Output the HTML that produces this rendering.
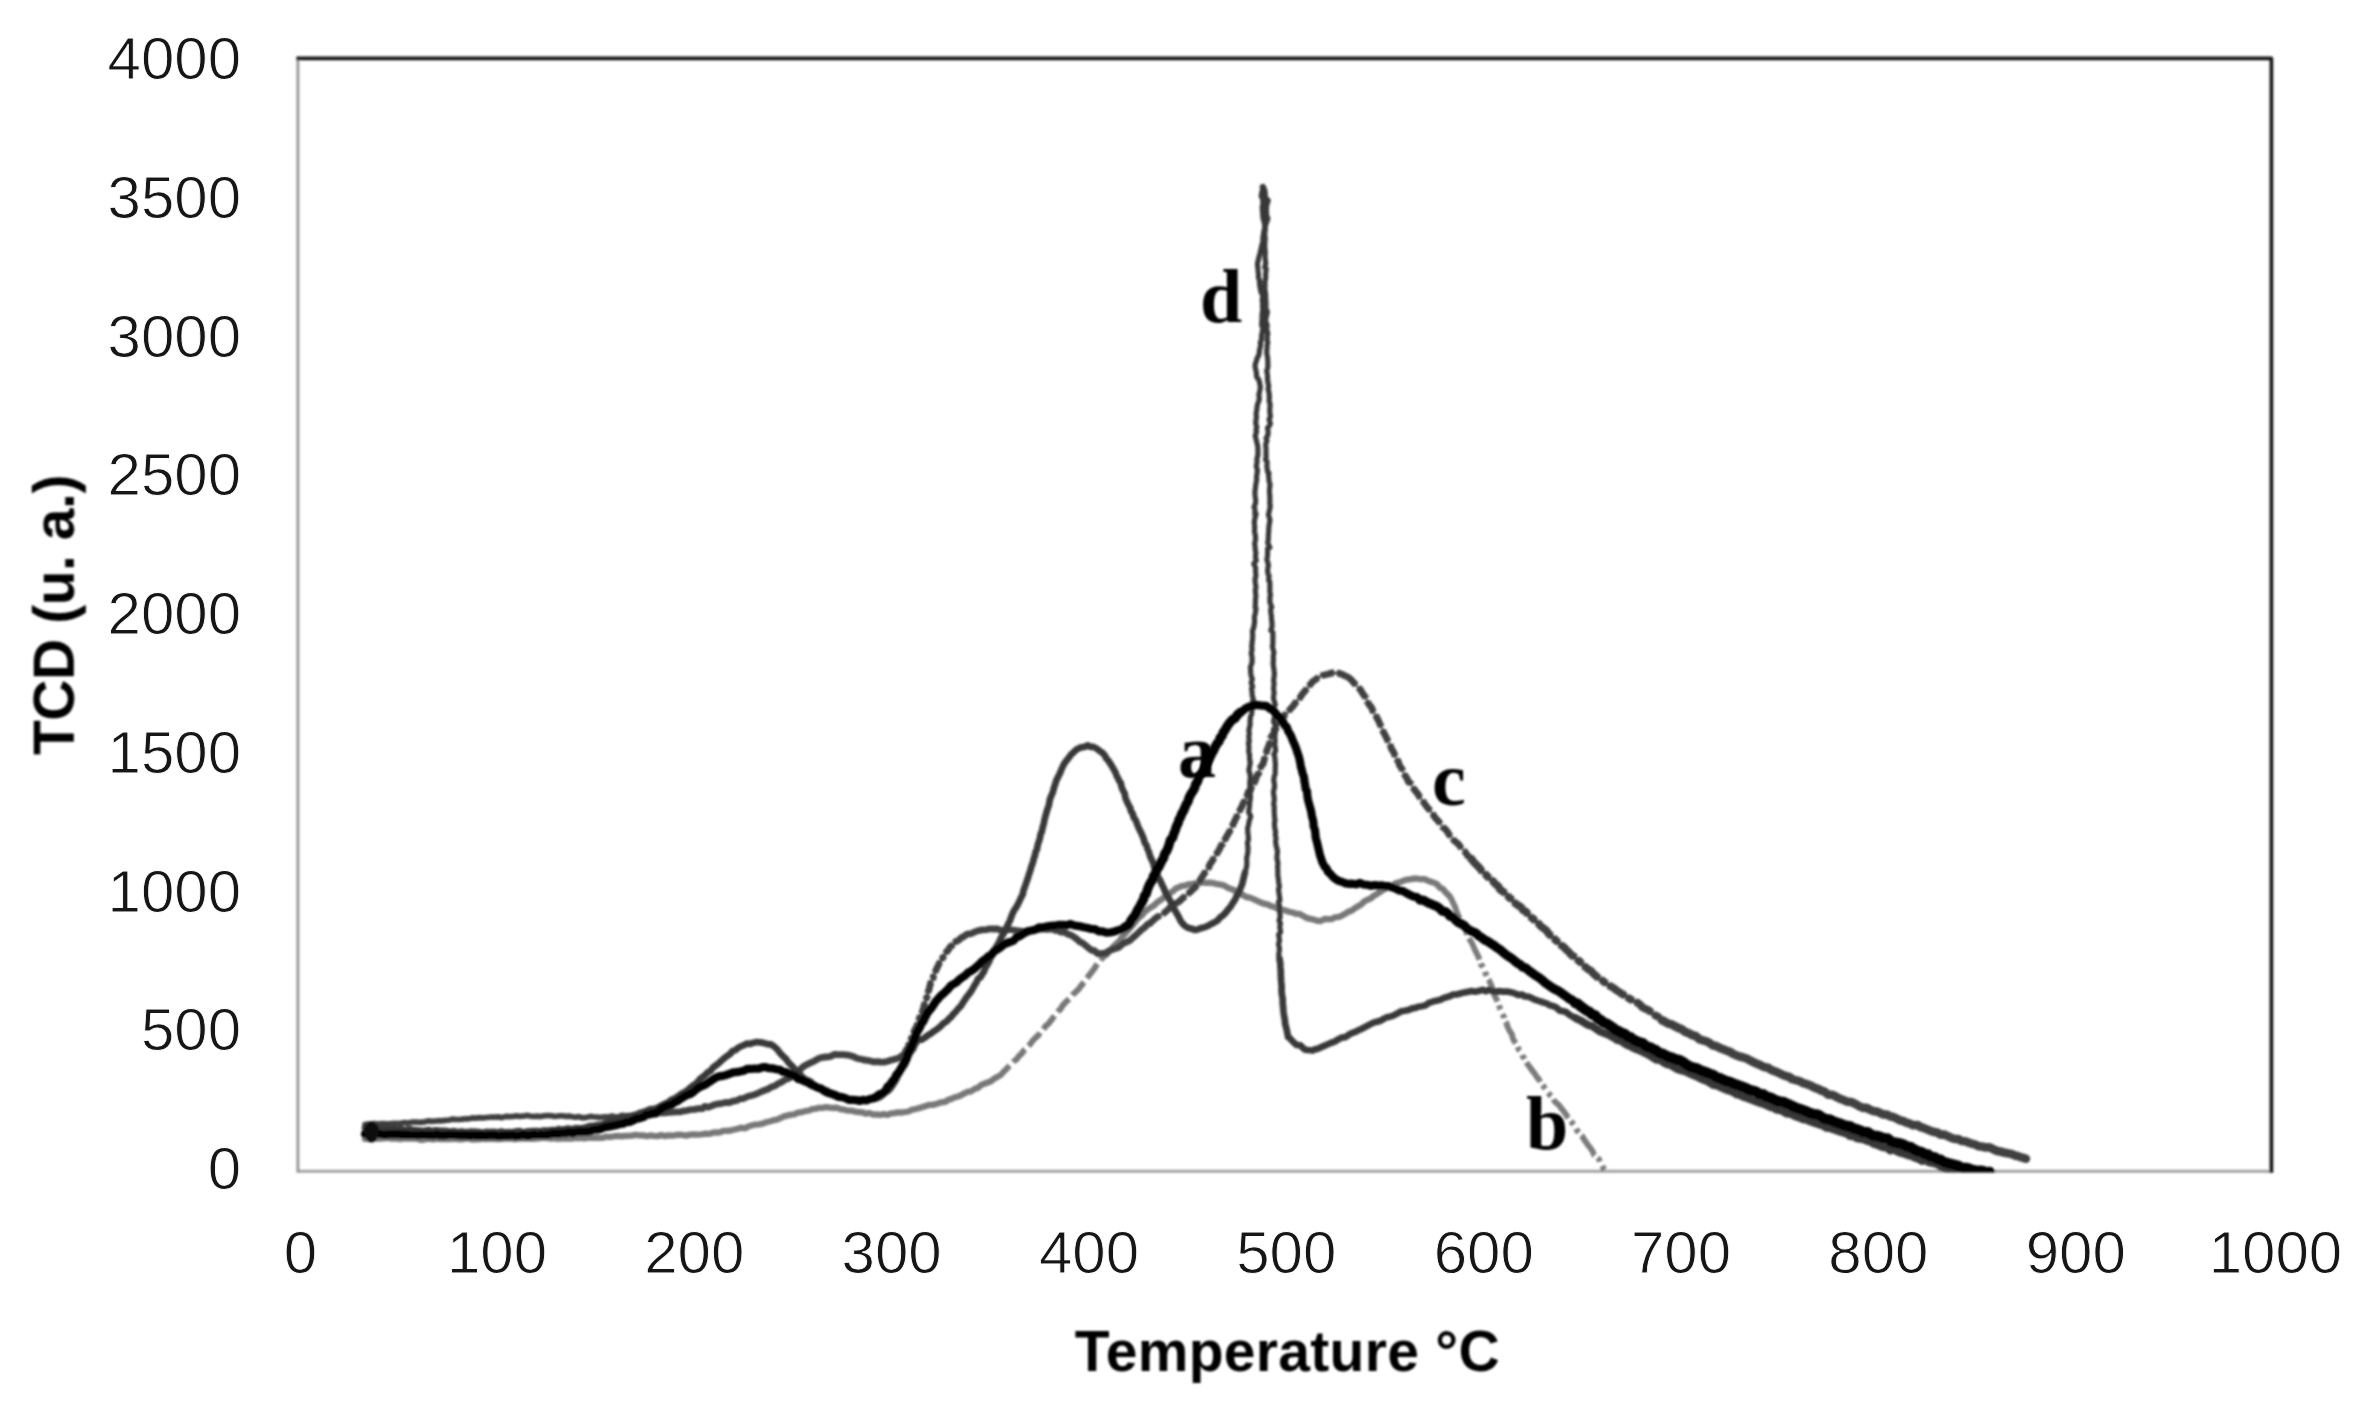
<!DOCTYPE html>
<html lang="en">
<head>
<meta charset="utf-8">
<title>TCD vs Temperature</title>
<style>
html,body{margin:0;padding:0;background:#fff;}
body{width:2357px;height:1402px;overflow:hidden;font-family:"Liberation Sans",sans-serif;}
svg{display:block;}
</style>
</head>
<body>
<svg width="2357" height="1402" viewBox="0 0 2357 1402">
<defs><clipPath id="plot"><rect x="290" y="50" width="1990" height="1122.6"/></clipPath><filter id="soft" x="0" y="0" width="2357" height="1402" filterUnits="userSpaceOnUse"><feGaussianBlur stdDeviation="1.0"/></filter><filter id="soft2" x="0" y="0" width="2357" height="1402" filterUnits="userSpaceOnUse"><feGaussianBlur stdDeviation="0.45"/></filter></defs>
<rect x="0" y="0" width="2357" height="1402" fill="#ffffff"/>
<g filter="url(#soft)">
<g fill="none" stroke-linecap="butt">
<path d="M297.8 1171.2 H2271.4" stroke="#a2a2a2" stroke-width="3"/>
<path d="M297.9 58.3 V1172.7" stroke="#9a9a9a" stroke-width="3"/>
<path d="M296.4 58.3 H2271.4 V1172.7" stroke="#161616" stroke-width="3.7" stroke-linejoin="round"/>
</g>
<g fill="none" stroke-linejoin="round" stroke-linecap="round" clip-path="url(#plot)">
<path d="M365.0 1138.8L367.1 1138.7L370.1 1139.0L371.8 1139.0L374.5 1138.5L377.8 1138.6L381.2 1138.7L384.0 1138.2L387.9 1137.9L391.9 1138.7L396.1 1138.4L399.8 1139.1L404.1 1138.4L408.5 1138.5L412.5 1138.7L416.3 1138.3L420.5 1139.9L424.4 1139.5L429.0 1138.6L432.8 1139.4L436.3 1138.6L440.3 1139.0L444.1 1139.0L446.8 1138.8L450.4 1139.1L454.5 1138.6L457.6 1139.2L461.3 1139.4L464.7 1138.7L468.4 1138.4L472.9 1139.6L475.5 1139.2L478.8 1139.4L483.1 1138.7L486.3 1139.0L490.1 1138.7L493.3 1138.8L497.0 1139.2L500.7 1139.0L503.8 1138.7L507.8 1138.6L511.4 1138.7L514.6 1139.2L518.9 1138.6L522.5 1138.3L525.8 1138.6L530.5 1138.6L533.6 1138.8L537.8 1138.3L542.1 1137.8L545.5 1137.9L550.2 1138.5L553.7 1138.1L557.9 1138.9L561.4 1138.4L565.9 1138.5L568.9 1138.4L572.5 1138.5L575.9 1137.9L579.0 1138.2L581.9 1138.0L584.7 1138.5L588.0 1137.5L590.2 1137.9L596.7 1137.5L601.0 1137.8L603.4 1137.6L605.8 1136.5L608.4 1137.0L612.0 1136.7L615.0 1136.2L618.4 1135.9L621.7 1136.3L624.7 1135.9L628.2 1135.9L631.9 1135.7L635.3 1134.8L639.9 1135.3L643.9 1135.5L646.8 1136.2L650.4 1135.4L653.6 1135.8L657.6 1136.1L661.3 1135.1L664.5 1136.1L668.4 1135.4L672.3 1135.7L676.2 1135.0L679.6 1134.6L683.4 1135.2L686.3 1135.6L690.0 1134.6L694.0 1134.5L698.0 1134.6L701.6 1134.4L704.7 1133.7L709.2 1133.9L712.8 1132.7L715.7 1132.5L720.3 1132.3L723.1 1130.9L727.1 1130.8L730.6 1130.5L733.4 1129.7L737.9 1128.7L741.0 1127.7L744.6 1128.4L748.9 1126.3L752.5 1125.3L755.4 1124.6L758.8 1124.3L762.6 1123.6L765.0 1122.6L769.2 1121.5L772.9 1120.4L776.8 1119.6L779.8 1118.3L783.3 1116.7L786.0 1115.8L790.2 1114.9L794.3 1114.3L797.3 1112.9L801.4 1112.2L804.9 1111.2L809.4 1110.5L812.0 1109.1L814.6 1108.8L819.2 1107.9L822.6 1107.8L826.3 1107.1L829.7 1107.7L833.6 1108.0L836.8 1107.7L840.2 1109.2L844.3 1109.7L848.2 1110.7L852.0 1110.7L855.1 1111.7L858.9 1112.1L862.8 1112.5L866.1 1113.7L869.6 1113.0L873.3 1114.7L876.9 1114.4L880.1 1115.0L883.6 1114.1L887.6 1114.9L891.2 1113.4L894.3 1113.1L898.0 1112.4L902.0 1112.5L905.1 1112.0L908.4 1111.5L912.3 1109.6L915.9 1109.0L919.5 1107.9L922.8 1106.9L926.1 1106.0L928.8 1104.9L932.9 1104.8L935.7 1104.2L938.8 1103.1L941.5 1102.3L945.9 1101.6L948.2 1099.8L951.5 1098.9L954.3 1097.5L958.0 1096.5L961.0 1095.3L964.0 1093.6L967.6 1091.8L971.2 1091.3L974.4 1089.0L978.1 1087.7L980.5 1085.4L984.4 1083.7L987.5 1082.5L991.2 1081.2L994.1 1078.7L996.8 1077.2" stroke="#787878" stroke-width="6.3"/>
<path d="M996.8 1077.2L1000.7 1075.1L1003.6 1071.7L1006.4 1069.1L1008.5 1066.8L1011.8 1063.9L1013.8 1061.5L1016.7 1059.2L1019.0 1055.9L1021.2 1054.1L1023.8 1050.6L1026.1 1048.7L1029.0 1045.5L1030.8 1043.3L1033.3 1040.0L1036.0 1037.3L1038.3 1035.4L1040.8 1031.4L1043.0 1029.9L1045.5 1026.2L1048.2 1024.0L1050.5 1021.2L1052.8 1018.0L1055.4 1014.7L1058.0 1011.5L1060.6 1008.9L1062.7 1005.4L1065.2 1002.7L1067.7 1000.3L1069.9 998.3L1072.7 994.7L1075.2 992.4L1077.8 990.1L1080.1 987.2L1082.4 984.1L1085.2 980.9L1087.0 978.2L1089.5 974.9L1092.0 971.7L1094.0 969.1L1095.8 966.1L1098.3 962.8L1100.4 960.5L1102.7 957.6L1104.7 955.7L1107.0 954.1" stroke="#787878" stroke-width="6.0" stroke-dasharray="17.5 5" stroke-linecap="butt"/>
<path d="M1107.0 954.1L1109.5 950.5L1111.9 948.6L1114.0 946.0L1116.4 943.7L1120.4 940.0L1121.9 937.0L1123.9 935.2L1126.4 932.3L1128.8 929.4L1131.5 926.5L1134.1 923.5L1136.5 920.4L1139.1 917.5L1142.0 915.2L1144.4 912.1L1147.5 909.6L1150.5 907.5L1153.4 905.9L1156.4 903.1L1159.0 901.1L1162.4 898.8L1164.5 896.8L1167.4 895.2L1170.7 892.5L1173.3 891.1L1176.1 888.2L1178.3 887.6L1181.2 886.2L1184.9 885.7L1188.2 884.4L1191.7 884.2L1195.4 883.3L1198.5 883.5L1202.8 882.2L1205.7 882.9L1210.5 882.7L1214.0 883.3L1217.2 884.2L1220.7 884.6L1224.3 885.5L1227.2 887.5L1230.1 888.7L1233.9 890.0L1236.1 891.8L1238.7 893.3L1242.2 894.7L1245.9 896.8L1249.7 897.6L1253.5 899.1L1257.2 900.8L1260.1 902.2L1264.3 903.8L1267.5 904.3L1271.1 906.1L1274.6 907.0L1277.8 908.9L1281.6 909.7L1285.5 910.5L1289.0 911.7L1292.4 912.5L1296.2 913.8L1299.6 913.9L1303.2 915.9L1307.1 918.2L1310.4 918.9L1313.4 919.5L1317.3 920.8L1320.7 921.0L1324.6 918.9L1328.7 919.2L1331.9 919.0L1335.0 917.3L1339.0 916.9L1342.5 915.3L1345.2 913.8L1348.5 911.8L1351.9 910.5L1354.8 908.3L1358.1 906.3L1361.1 904.6L1364.1 901.5L1367.8 899.7L1370.8 898.4L1373.5 895.9L1377.0 893.9L1379.9 892.0L1383.6 889.5L1386.6 888.2L1389.2 886.4L1392.7 885.3L1395.9 883.1L1399.6 882.2L1403.1 880.9L1406.3 879.7L1409.7 879.3L1412.3 878.8L1416.0 878.5L1420.3 879.2L1424.6 879.1L1428.0 880.8L1432.3 882.3L1434.8 883.0L1437.3 884.5L1439.9 887.7L1443.1 889.2L1445.5 892.4L1447.5 894.0L1449.8 896.6" stroke="#787878" stroke-width="6.3"/>
<path d="M1449.8 896.6L1452.0 900.3L1453.4 903.6L1455.2 907.0L1456.3 910.9L1457.9 914.5L1459.3 918.0L1460.6 921.6L1462.4 925.4L1463.9 927.8L1465.8 930.5L1467.3 934.4L1468.6 937.5L1470.2 940.2L1472.0 943.2L1473.5 946.7L1474.8 949.7L1476.6 953.1L1478.5 957.0L1479.6 960.4L1480.6 964.1L1482.5 966.3L1484.6 969.7L1485.7 974.0L1487.0 977.4L1489.1 980.4L1490.6 983.6L1492.0 987.5L1493.1 990.5L1494.2 994.5L1495.5 997.4L1497.4 1001.0L1498.8 1003.9L1499.7 1007.6L1501.3 1011.3L1502.2 1014.1L1504.1 1017.3L1504.9 1020.8L1506.8 1023.9L1507.7 1027.1L1509.1 1030.1L1511.7 1034.0L1512.8 1038.0L1513.9 1040.7L1516.1 1044.1L1517.5 1046.3L1518.8 1049.6L1521.2 1052.3L1522.7 1056.2L1524.6 1058.7L1526.1 1061.9L1528.0 1064.8L1529.9 1067.3L1532.0 1070.3L1534.5 1073.2L1536.6 1076.8L1538.8 1079.3L1541.0 1083.1L1543.6 1086.5L1545.6 1089.1L1547.8 1092.5L1550.3 1095.3L1552.5 1097.2L1554.7 1101.5L1556.7 1103.2L1559.2 1105.4L1561.4 1108.4L1563.5 1111.1L1565.9 1114.4L1567.6 1117.1L1570.4 1120.6L1572.3 1122.9L1574.9 1126.1L1576.7 1130.0L1578.8 1132.5L1581.9 1135.7L1583.8 1139.0L1585.7 1141.7L1588.0 1145.1L1590.1 1147.6L1592.6 1151.3L1594.2 1155.1L1596.8 1157.1L1599.2 1159.5L1600.4 1163.6L1602.3 1165.6L1603.8 1169.0L1605.0 1170.4" stroke="#7c7c7c" stroke-width="5.9" stroke-dasharray="24 4 4.5 5 4.5 4" stroke-linecap="butt"/>
<path d="M365.0 1124.5L367.0 1124.2L370.5 1124.0L373.7 1123.5L378.3 1124.0L382.2 1123.5L386.1 1123.8L390.8 1123.6L395.3 1123.3L398.5 1123.7L401.7 1123.1L404.5 1122.5L407.6 1123.1L411.7 1122.2L415.2 1122.0L420.4 1122.3L425.0 1121.8L428.2 1120.9L431.1 1121.4L434.2 1121.2L437.9 1120.7L441.2 1120.8L445.0 1120.3L449.3 1120.0L452.8 1119.1L456.8 1119.5L460.9 1119.3L464.9 1118.9L468.7 1118.8L472.4 1117.9L476.1 1118.1L479.6 1117.7L483.6 1117.8L486.8 1117.5L491.0 1117.1L494.8 1117.1L498.3 1116.9L502.1 1117.6L505.9 1116.4L509.2 1116.6L513.2 1116.5L516.2 1115.9L519.7 1116.4L523.2 1116.2L527.3 1115.4L530.2 1116.1L533.2 1116.5L536.9 1116.2L540.8 1116.6L544.2 1115.8L547.7 1115.5L552.2 1115.9L554.9 1116.5L559.4 1115.9L562.5 1115.8L565.5 1116.4L569.1 1116.1L572.8 1116.8L575.9 1117.2L578.9 1116.6L582.2 1117.8L586.9 1117.3L590.4 1116.4L594.4 1117.0L598.0 1117.1L600.3 1117.5L604.3 1116.8L608.0 1117.0L612.1 1116.1L615.2 1116.9L618.1 1117.0L621.7 1115.4L625.6 1115.9L628.6 1115.7L632.6 1115.5L635.5 1115.0L639.4 1115.2L642.7 1115.0L646.3 1114.4L650.1 1114.1" stroke="#414141" stroke-width="5.7"/>
<path d="M650.1 1114.1L653.7 1113.8L657.2 1113.5L661.3 1112.5L664.7 1112.8L668.9 1112.4L672.9 1112.1L676.4 1111.8L680.0 1111.9L683.9 1110.8L686.8 1110.6L690.0 1109.7L694.5 1109.4L698.5 1108.6L702.3 1108.7L704.7 1106.4L708.1 1107.2L711.7 1105.9L715.1 1104.5L718.6 1103.8L722.2 1103.3L725.6 1102.5L729.4 1102.7L732.4 1101.3L736.3 1100.7L740.3 1098.7L743.6 1098.5L747.6 1096.5L750.5 1095.7L754.6 1094.7L758.0 1093.2L761.6 1091.5L764.8 1090.3L768.3 1089.0L771.5 1086.9L775.1 1085.8L778.7 1083.3L781.4 1082.1L785.2 1079.6L787.7 1078.7L789.8 1077.9L794.2 1073.5L796.7 1072.2L799.6 1070.3L802.3 1067.4L805.0 1065.6L808.6 1063.7L811.5 1062.4L814.8 1060.7L819.1 1058.3L822.6 1057.4L825.9 1057.0L830.0 1056.6L834.7 1054.4L838.2 1054.7L842.7 1054.6L845.8 1054.9L849.7 1055.4L853.0 1056.4L857.3 1058.5L860.4 1059.0L864.1 1060.0L867.2 1060.3L870.5 1061.0L873.7 1061.9L877.2 1061.7L880.4 1062.0L884.3 1062.1L887.8 1061.3L890.7 1060.3L893.9 1059.4L898.1 1058.3L901.0 1056.6L904.8 1053.8" stroke="#414141" stroke-width="6.8"/>
<path d="M904.8 1053.8L906.0 1050.2L907.7 1048.3L908.9 1044.6L910.5 1041.3L911.9 1037.1L913.4 1033.5L914.7 1029.9L916.1 1027.5L918.0 1023.0L918.9 1019.9L920.2 1015.9L921.8 1013.0L923.0 1009.7L924.0 1005.9L924.9 1002.8L926.1 999.5L927.5 995.4L928.1 991.9L929.1 989.1L929.9 985.8L930.9 982.3L932.9 978.8L933.7 975.6L935.2 971.9L936.7 968.6L938.6 964.8L939.9 962.0L942.0 959.0L943.8 956.1L945.8 952.8L948.4 949.7L950.2 946.7L952.8 944.9L956.0 941.4" stroke="#414141" stroke-width="3.2"/>
<path d="M904.8 1053.8L906.0 1050.2L907.7 1048.3L908.9 1044.6L910.5 1041.3L911.9 1037.1L913.4 1033.5L914.7 1029.9L916.1 1027.5L918.0 1023.0L918.9 1019.9L920.2 1015.9L921.8 1013.0L923.0 1009.7L924.0 1005.9L924.9 1002.8L926.1 999.5L927.5 995.4L928.1 991.9L929.1 989.1L929.9 985.8L930.9 982.3L932.9 978.8L933.7 975.6L935.2 971.9L936.7 968.6L938.6 964.8L939.9 962.0L942.0 959.0L943.8 956.1L945.8 952.8L948.4 949.7L950.2 946.7L952.8 944.9L956.0 941.4" stroke="#414141" stroke-width="6.8" stroke-dasharray="12 2.4 5 2.4" stroke-linecap="butt"/>
<path d="M956.0 941.4L958.6 940.3L961.5 937.6L964.5 936.1L967.2 934.1L971.0 933.7L974.8 931.9L978.3 930.6L982.3 929.9L986.4 929.6L990.0 928.8L994.2 929.0L997.4 928.9L1002.0 930.9L1005.0 929.5L1008.9 929.5L1012.9 930.0L1016.8 930.6L1020.8 931.1L1025.0 931.4L1029.0 930.6L1033.1 930.6L1036.9 929.9L1041.0 929.1L1044.8 929.1L1048.1 929.4L1052.4 928.9L1054.9 930.3L1058.3 930.7L1061.3 932.2L1065.1 932.3L1068.2 934.3L1070.8 935.1L1074.3 937.2L1077.0 939.2L1079.5 941.7L1082.7 943.2L1085.5 945.4L1088.8 948.2L1091.6 950.1L1094.7 950.9L1097.6 953.6L1101.3 953.5L1105.0 953.3L1108.1 951.3L1112.3 949.4L1115.5 948.4L1118.1 947.7L1121.2 945.3L1123.5 943.3L1127.0 941.8L1130.1 940.4L1133.2 937.4L1135.6 935.4L1138.0 933.1L1141.8 929.5L1144.6 927.5L1147.3 924.4L1149.7 923.5" stroke="#414141" stroke-width="6.8"/>
<path d="M1149.7 923.5L1153.3 920.3L1156.0 917.8L1158.6 916.2L1160.6 914.1L1164.4 912.8L1167.6 910.0L1170.1 907.4L1172.8 907.3L1175.8 903.6L1179.3 901.4L1181.8 899.1L1184.9 896.2L1187.6 894.2L1189.8 892.3L1192.5 889.7L1195.1 887.5L1196.6 884.9L1199.1 882.0L1200.6 879.2L1202.8 875.9L1205.4 871.9L1206.7 870.0L1208.6 867.8L1209.6 864.8L1211.7 861.8L1213.8 858.2L1215.6 855.5L1217.7 852.1L1219.4 849.2L1221.4 845.1L1222.9 843.7L1224.9 839.6L1226.7 836.4L1228.6 833.1L1230.6 829.6L1232.1 826.5L1233.5 823.5L1235.3 819.6L1236.9 816.4L1238.0 814.2L1240.4 809.2L1241.8 806.7L1243.4 802.8L1245.3 799.8L1246.8 796.6L1248.3 791.7L1250.6 790.1L1251.6 785.7L1254.1 783.0L1255.3 780.5L1256.7 776.0L1258.7 773.2L1259.5 769.3L1261.2 766.1L1263.0 764.0L1264.0 760.5L1265.1 756.5L1266.0 754.4L1266.8 750.6L1267.8 748.1L1269.3 744.4L1270.2 741.1L1270.8 737.6L1272.3 735.2L1274.0 732.4L1275.4 729.3L1277.4 726.7L1279.2 723.6L1280.6 720.7L1283.0 718.0L1285.1 714.5L1287.8 712.7L1289.9 709.5L1292.4 706.9L1294.7 703.7L1297.6 699.8L1299.9 697.8L1302.2 694.2L1304.9 691.1L1307.5 688.1L1310.0 684.8L1312.4 681.8L1315.3 679.8L1318.2 677.6L1321.6 675.7L1325.1 674.8L1327.9 674.2L1331.3 673.0L1334.6 673.0L1338.7 673.2L1342.5 674.5L1346.2 676.4" stroke="#414141" stroke-width="2.4"/>
<path d="M1149.7 923.5L1153.3 920.3L1156.0 917.8L1158.6 916.2L1160.6 914.1L1164.4 912.8L1167.6 910.0L1170.1 907.4L1172.8 907.3L1175.8 903.6L1179.3 901.4L1181.8 899.1L1184.9 896.2L1187.6 894.2L1189.8 892.3L1192.5 889.7L1195.1 887.5L1196.6 884.9L1199.1 882.0L1200.6 879.2L1202.8 875.9L1205.4 871.9L1206.7 870.0L1208.6 867.8L1209.6 864.8L1211.7 861.8L1213.8 858.2L1215.6 855.5L1217.7 852.1L1219.4 849.2L1221.4 845.1L1222.9 843.7L1224.9 839.6L1226.7 836.4L1228.6 833.1L1230.6 829.6L1232.1 826.5L1233.5 823.5L1235.3 819.6L1236.9 816.4L1238.0 814.2L1240.4 809.2L1241.8 806.7L1243.4 802.8L1245.3 799.8L1246.8 796.6L1248.3 791.7L1250.6 790.1L1251.6 785.7L1254.1 783.0L1255.3 780.5L1256.7 776.0L1258.7 773.2L1259.5 769.3L1261.2 766.1L1263.0 764.0L1264.0 760.5L1265.1 756.5L1266.0 754.4L1266.8 750.6L1267.8 748.1L1269.3 744.4L1270.2 741.1L1270.8 737.6L1272.3 735.2L1274.0 732.4L1275.4 729.3L1277.4 726.7L1279.2 723.6L1280.6 720.7L1283.0 718.0L1285.1 714.5L1287.8 712.7L1289.9 709.5L1292.4 706.9L1294.7 703.7L1297.6 699.8L1299.9 697.8L1302.2 694.2L1304.9 691.1L1307.5 688.1L1310.0 684.8L1312.4 681.8L1315.3 679.8L1318.2 677.6L1321.6 675.7L1325.1 674.8L1327.9 674.2L1331.3 673.0L1334.6 673.0L1338.7 673.2L1342.5 674.5L1346.2 676.4" stroke="#414141" stroke-width="6.8" stroke-dasharray="13.5 2.8" stroke-linecap="butt"/>
<path d="M1346.2 676.4L1348.6 677.5L1351.4 679.9L1354.9 683.9L1357.5 686.6L1360.2 689.4L1361.8 692.0L1363.9 695.3L1365.9 697.9L1367.5 701.9L1369.2 704.8L1371.5 707.5L1373.1 711.4L1374.9 714.0L1376.6 717.2L1378.7 721.2L1380.0 724.3L1381.7 727.6L1383.3 731.8L1385.0 734.9L1386.8 738.5L1388.3 741.7L1390.0 744.2L1391.5 749.0L1393.4 751.7L1394.7 755.0L1396.9 759.5L1398.4 761.7L1399.5 765.4L1402.1 769.1L1403.1 771.9L1405.0 775.5L1407.2 778.6L1408.1 781.5L1410.7 783.5L1412.2 786.5L1413.4 788.2L1415.6 791.3L1417.9 794.0L1419.8 797.3L1422.3 799.9L1424.2 803.2L1425.9 805.7L1428.1 808.4L1430.7 811.1L1432.8 814.1L1435.1 817.7L1437.3 820.0L1439.7 822.8L1442.5 827.0L1444.7 828.6L1447.1 831.3L1449.0 834.6L1451.8 836.9L1453.9 840.4L1456.3 842.3L1458.7 844.3L1461.6 848.6L1464.0 850.6L1466.6 854.0L1469.0 857.6" stroke="#414141" stroke-width="2.0"/>
<path d="M1346.2 676.4L1348.6 677.5L1351.4 679.9L1354.9 683.9L1357.5 686.6L1360.2 689.4L1361.8 692.0L1363.9 695.3L1365.9 697.9L1367.5 701.9L1369.2 704.8L1371.5 707.5L1373.1 711.4L1374.9 714.0L1376.6 717.2L1378.7 721.2L1380.0 724.3L1381.7 727.6L1383.3 731.8L1385.0 734.9L1386.8 738.5L1388.3 741.7L1390.0 744.2L1391.5 749.0L1393.4 751.7L1394.7 755.0L1396.9 759.5L1398.4 761.7L1399.5 765.4L1402.1 769.1L1403.1 771.9L1405.0 775.5L1407.2 778.6L1408.1 781.5L1410.7 783.5L1412.2 786.5L1413.4 788.2L1415.6 791.3L1417.9 794.0L1419.8 797.3L1422.3 799.9L1424.2 803.2L1425.9 805.7L1428.1 808.4L1430.7 811.1L1432.8 814.1L1435.1 817.7L1437.3 820.0L1439.7 822.8L1442.5 827.0L1444.7 828.6L1447.1 831.3L1449.0 834.6L1451.8 836.9L1453.9 840.4L1456.3 842.3L1458.7 844.3L1461.6 848.6L1464.0 850.6L1466.6 854.0L1469.0 857.6" stroke="#414141" stroke-width="6.8" stroke-dasharray="13.5 2.9" stroke-linecap="butt"/>
<path d="M1469.0 857.6L1471.7 859.0L1473.9 862.3L1476.6 864.8L1479.4 867.9L1482.0 871.1L1484.6 873.4L1487.2 876.2L1490.4 879.6L1492.6 880.8L1495.1 883.8L1497.9 885.8L1499.9 889.3L1503.2 891.8L1506.1 893.8L1509.0 897.4L1511.1 898.9L1513.5 901.4L1516.0 903.9L1518.5 905.6L1521.2 907.3L1523.0 910.2L1525.9 911.6L1528.4 914.9L1530.9 917.2L1533.4 919.0L1535.4 921.0L1538.5 923.6L1540.6 926.1L1544.3 928.8L1546.2 930.3L1548.3 933.2L1551.0 936.0L1553.6 938.1L1556.3 940.6L1558.8 942.8L1561.5 945.6L1564.1 947.3L1566.4 949.9L1569.0 952.2L1571.8 955.5L1574.3 956.8L1577.1 959.6L1579.5 961.2L1582.0 964.1L1584.5 966.2L1587.6 968.9L1591.0 970.9L1593.5 973.8L1596.7 976.5L1599.1 978.8L1602.0 980.3L1604.8 982.5L1607.7 984.6L1610.7 986.4L1613.5 987.9L1616.7 990.5L1619.8 992.3L1622.2 994.1L1626.0 995.8L1628.6 998.2L1631.5 999.8L1634.7 1001.5L1637.9 1002.9L1640.3 1005.0L1642.7 1007.5L1646.3 1009.2L1649.3 1010.5L1652.0 1013.6L1654.8 1015.1L1658.4 1017.0L1661.8 1020.1" stroke="#414141" stroke-width="4.6"/>
<path d="M1469.0 857.6L1471.7 859.0L1473.9 862.3L1476.6 864.8L1479.4 867.9L1482.0 871.1L1484.6 873.4L1487.2 876.2L1490.4 879.6L1492.6 880.8L1495.1 883.8L1497.9 885.8L1499.9 889.3L1503.2 891.8L1506.1 893.8L1509.0 897.4L1511.1 898.9L1513.5 901.4L1516.0 903.9L1518.5 905.6L1521.2 907.3L1523.0 910.2L1525.9 911.6L1528.4 914.9L1530.9 917.2L1533.4 919.0L1535.4 921.0L1538.5 923.6L1540.6 926.1L1544.3 928.8L1546.2 930.3L1548.3 933.2L1551.0 936.0L1553.6 938.1L1556.3 940.6L1558.8 942.8L1561.5 945.6L1564.1 947.3L1566.4 949.9L1569.0 952.2L1571.8 955.5L1574.3 956.8L1577.1 959.6L1579.5 961.2L1582.0 964.1L1584.5 966.2L1587.6 968.9L1591.0 970.9L1593.5 973.8L1596.7 976.5L1599.1 978.8L1602.0 980.3L1604.8 982.5L1607.7 984.6L1610.7 986.4L1613.5 987.9L1616.7 990.5L1619.8 992.3L1622.2 994.1L1626.0 995.8L1628.6 998.2L1631.5 999.8L1634.7 1001.5L1637.9 1002.9L1640.3 1005.0L1642.7 1007.5L1646.3 1009.2L1649.3 1010.5L1652.0 1013.6L1654.8 1015.1L1658.4 1017.0L1661.8 1020.1" stroke="#414141" stroke-width="7.8" stroke-dasharray="20 2.4 7 2.4" stroke-linecap="butt"/>
<path d="M1661.8 1020.1L1665.3 1021.9L1668.1 1023.6L1671.2 1024.2L1674.8 1026.1L1678.2 1027.9L1681.7 1029.2L1685.0 1031.8L1688.9 1033.3L1692.4 1035.3L1695.6 1035.9L1699.3 1039.2L1702.7 1040.3L1706.1 1041.2L1709.4 1042.9L1712.7 1045.4L1716.1 1046.0L1719.3 1047.7L1723.6 1049.4L1727.0 1050.9L1729.7 1051.6L1733.0 1053.9L1735.9 1055.2L1740.2 1056.8L1742.8 1057.3L1746.6 1058.5L1750.0 1060.4L1753.6 1062.3L1757.0 1063.7L1760.6 1065.3L1763.8 1067.0L1768.0 1067.7L1771.3 1070.0L1774.7 1071.3L1777.8 1072.5L1781.7 1074.4L1784.4 1075.6L1787.6 1076.5L1790.0 1077.4L1791.5 1078.9L1795.2 1080.0L1800.2 1081.4L1802.5 1082.8L1805.1 1083.6L1807.7 1084.4L1811.0 1085.7L1813.7 1087.4L1817.5 1088.7L1821.4 1090.7L1824.4 1091.7L1828.2 1094.6L1831.9 1094.7L1835.9 1096.7L1839.4 1098.5L1842.7 1099.7L1846.4 1101.4L1850.4 1101.9L1853.4 1102.9L1856.4 1104.6L1859.5 1106.4L1863.0 1107.9L1866.6 1107.9L1869.8 1109.6L1872.7 1110.9L1876.5 1111.4L1879.8 1112.8L1883.5 1114.5L1886.8 1114.6L1890.4 1116.6L1893.4 1117.1L1896.9 1118.7L1900.1 1120.4L1903.8 1121.3L1906.4 1122.6L1909.9 1123.6L1913.3 1125.3L1917.6 1125.0L1920.3 1127.0L1923.4 1127.9L1927.4 1129.6L1930.3 1130.7L1934.3 1132.1L1937.2 1132.5L1940.5 1134.6L1944.1 1134.5L1947.1 1135.9L1949.8 1137.2L1953.9 1138.7L1958.2 1139.1L1961.6 1141.0L1965.0 1141.2L1968.5 1142.6L1971.7 1143.6L1975.3 1144.6L1978.9 1146.3L1982.2 1146.6L1985.6 1147.5L1989.1 1147.2L1992.0 1148.6L1996.2 1150.7L2000.0 1151.5L2003.9 1152.5L2007.7 1153.3L2011.4 1153.9L2015.3 1155.7L2018.0 1156.1L2021.1 1157.4L2023.6 1157.9L2025.9 1158.8" stroke="#414141" stroke-width="8.6"/>
<path d="M365.0 1128.0L366.8 1128.4L369.8 1128.0L372.8 1128.4L376.3 1128.5L380.2 1129.1L384.3 1128.8L387.8 1129.3L392.0 1128.8L396.6 1129.7L399.9 1129.4L403.5 1129.7L407.0 1129.8L409.9 1129.2L414.1 1130.2L416.9 1130.4L421.1 1130.8L424.7 1130.8L428.2 1130.1L432.2 1131.0L436.0 1130.4L439.9 1130.9L443.6 1130.8L446.5 1131.1L450.3 1131.9L454.0 1131.0L457.2 1132.3L461.1 1131.6L464.8 1132.0L468.8 1131.9L471.9 1131.5L476.0 1131.9L479.6 1132.2L483.0 1132.7L486.9 1131.9L490.4 1132.1L493.9 1131.8L497.8 1132.5L501.4 1131.5L504.7 1132.5L508.5 1132.0L512.1 1132.5L515.6 1131.6L519.6 1131.1L522.9 1132.7L526.6 1131.7L529.6 1131.4L533.3 1131.0L536.8 1131.2L540.6 1131.4L543.8 1130.5L548.2 1130.7L552.1 1130.1L555.6 1130.3L558.6 1129.1L563.0 1130.0L566.0 1128.9L569.0 1128.7L572.8 1129.2L575.9 1128.2L579.0 1128.3L582.4 1128.3L586.5 1127.2L590.3 1125.9L594.3 1125.9L597.5 1124.8L602.0 1124.5L605.3 1123.0L608.5 1122.0L612.4 1121.3L615.5 1120.1L619.3 1120.2L622.8 1118.5L626.2 1117.9L629.8 1116.5L633.3 1115.3L636.8 1114.4L639.6 1113.0L643.7 1112.0L647.7 1110.4L650.8 1109.0L654.3 1108.9L657.8 1107.7L661.5 1105.6L665.0 1103.8L668.3 1102.3L671.0 1100.1L674.9 1098.3L677.6 1096.7L681.7 1093.6L684.5 1092.3L687.5 1090.2L689.6 1088.4L693.0 1085.5L695.8 1083.9L698.2 1081.1L700.3 1078.7L702.7 1076.9L704.8 1075.3L707.8 1072.3L710.7 1070.8L713.1 1067.5L716.4 1065.0L719.2 1062.8L722.2 1060.1L725.0 1057.6L728.0 1055.5L730.3 1053.6L732.8 1050.9L735.4 1050.1L738.2 1047.7L741.3 1046.3L744.2 1044.9L747.0 1043.6L749.8 1044.0L753.6 1042.7L756.8 1042.0L760.1 1042.4L763.5 1042.9L767.3 1044.1L770.8 1044.4L773.7 1046.2L776.7 1048.7L778.3 1050.8L780.4 1053.5L783.5 1056.7L786.1 1059.0L788.0 1062.0L791.3 1065.3L793.9 1068.3L796.6 1070.4L799.1 1073.5L802.6 1077.3L804.8 1079.3L807.2 1080.1L810.7 1081.7L812.8 1084.1L815.6 1085.9L820.1 1088.3L822.9 1089.7L826.5 1090.4L830.3 1092.7L833.8 1093.9L837.8 1095.6L841.6 1096.5L845.6 1098.2L849.0 1099.7L851.8 1100.2L856.0 1100.8L859.5 1101.4L862.7 1100.6L866.1 1100.4L869.1 1099.1L871.6 1098.1L875.3 1098.7L878.7 1097.6L882.1 1095.4L884.4 1092.9L887.8 1091.0L890.3 1088.6L891.8 1086.4L893.9 1083.2L896.0 1079.9L897.6 1076.4L899.6 1072.8L901.4 1069.8L903.3 1066.7L905.1 1064.6L906.3 1061.5L908.0 1057.1L909.6 1053.8L911.6 1050.7L913.5 1048.2L914.5 1045.2L915.7 1043.3L918.8 1039.2L921.6 1039.7L925.1 1037.5L927.4 1035.7L930.4 1033.9L933.9 1031.3L936.7 1029.4L940.0 1026.9L942.7 1023.9L946.5 1021.5L949.0 1018.7L951.3 1016.8L953.2 1014.2L955.9 1011.6L957.7 1009.1L960.7 1006.3L962.4 1003.5L964.6 1000.1L966.6 997.1L968.8 994.4L970.7 991.9L972.7 988.8L974.5 985.3L976.5 982.4L978.1 978.7L980.5 977.3L982.0 974.4L983.9 971.8L984.9 968.9L986.7 965.6L988.7 962.5L990.1 958.9L991.6 955.5L993.2 952.2L995.3 948.3L997.1 945.6L998.5 943.2L1000.4 939.2L1001.7 936.5L1004.4 932.3L1005.6 930.0L1007.3 925.8L1008.6 923.2L1010.1 920.2L1011.4 916.4L1012.3 914.2L1013.6 911.1L1015.6 908.3L1017.4 905.3L1018.8 902.4L1020.6 898.6L1022.9 894.1L1023.4 890.5L1024.3 888.4L1025.8 884.0L1026.4 882.3L1028.0 877.7L1028.9 874.6L1030.3 870.7L1031.3 866.6L1032.6 863.5L1033.8 858.6L1035.1 855.0L1035.5 852.3L1037.0 849.2L1037.5 845.9L1038.6 842.2L1039.8 838.8L1040.5 834.5L1041.9 831.4L1042.5 828.1L1043.9 823.3L1044.5 819.8L1045.5 815.7L1046.5 812.6L1047.3 809.5L1048.6 806.1L1049.3 803.0L1049.9 799.3L1051.4 795.5L1052.8 792.3L1054.1 787.4L1055.2 784.2L1056.3 780.4L1057.5 778.1L1058.9 775.3L1060.3 772.6L1060.8 770.8L1062.5 767.1L1064.3 763.5L1066.9 760.0L1068.4 758.3L1070.9 754.7L1073.0 752.9L1075.2 750.7L1077.6 748.8L1081.0 747.4L1084.4 746.9L1087.4 745.4L1090.8 746.9L1093.5 746.9L1096.7 748.6L1100.2 751.4L1102.0 752.4L1104.8 755.3L1105.9 757.8L1108.7 761.2L1110.8 764.4L1112.9 767.8L1115.3 772.2L1116.4 775.2L1117.6 777.5L1119.2 780.9L1120.8 783.0L1121.7 787.5L1123.1 790.7L1124.7 793.5L1125.5 798.2L1126.9 801.5L1128.5 804.9L1130.2 807.7L1130.9 811.2L1132.8 813.7L1133.6 817.2L1135.7 820.1L1137.1 823.9L1138.3 827.0L1139.5 829.7L1141.2 832.8L1142.6 836.2L1143.6 838.5L1144.6 842.5L1146.5 845.6L1147.6 849.1L1148.7 851.4L1150.3 856.8L1152.4 861.2L1153.4 863.4L1154.2 867.2L1155.8 870.2L1157.2 873.5L1158.3 877.8L1160.0 880.0L1161.7 884.1L1163.7 888.1L1165.2 891.8L1166.6 894.5L1168.8 898.3L1170.3 901.1L1172.4 904.7L1174.1 908.6L1174.6 909.7L1177.2 914.2L1179.2 917.9L1180.7 921.1L1182.7 923.8L1185.4 926.2L1187.8 927.8L1191.6 928.8L1195.2 930.0L1197.6 929.5L1200.9 928.1L1203.9 927.5L1207.5 926.1L1210.8 924.3L1214.6 922.3L1217.4 920.7L1219.8 917.8L1223.0 915.4L1225.7 912.6L1228.0 909.6L1230.4 906.9L1232.7 903.1L1234.9 899.8L1236.5 896.6L1238.3 893.1L1239.5 890.7L1240.9 887.3L1242.2 884.0L1243.2 879.9L1244.1 876.0L1245.0 872.5" stroke="#383838" stroke-width="6.7"/>
<path d="M1245.0 872.5L1246.1 868.8L1246.7 866.4L1246.9 861.6L1246.6 858.5L1247.2 855.9L1247.9 851.7L1248.0 847.5L1247.4 843.0L1248.5 839.3L1248.0 833.6L1247.7 831.5L1247.7 827.6L1248.5 825.2L1249.1 821.3L1250.7 816.6L1250.2 815.1L1248.6 812.3L1249.5 806.4L1249.6 803.0L1250.3 799.0L1250.4 795.8L1249.8 791.5L1249.9 788.9L1249.8 782.7L1249.8 781.6L1250.3 778.0L1249.9 773.3L1248.8 770.7L1249.6 766.3L1250.3 762.2L1249.5 759.3L1249.6 754.9L1248.7 751.7L1249.0 747.2L1248.4 743.0L1249.3 741.9L1248.8 736.4L1249.3 734.3L1248.9 729.9L1249.7 726.7L1250.2 723.8L1250.0 721.5L1250.5 716.4L1251.8 713.9L1251.9 710.3L1252.5 706.6L1251.9 703.1L1253.4 699.5L1252.2 695.7L1252.1 692.8L1251.5 688.3L1252.6 686.7L1251.2 682.8L1252.3 679.1L1251.1 675.6L1250.8 673.5L1250.4 666.9L1252.0 663.1L1252.1 658.4L1251.9 656.1L1251.2 653.4L1252.1 649.6L1251.7 647.2L1252.2 641.3L1252.5 639.8L1252.7 635.9L1252.4 630.9L1253.4 628.6L1254.3 624.4L1254.6 621.9L1254.4 616.5L1255.2 614.1L1256.0 608.3L1255.2 607.8L1255.5 601.3L1255.4 599.5L1255.9 596.6L1255.7 594.5L1255.3 590.1L1256.0 587.1L1255.3 582.8L1255.0 579.2L1256.0 575.8L1255.5 571.8L1255.7 567.8L1253.8 563.8L1256.3 560.4L1255.4 557.3L1255.9 552.5L1255.2 549.6L1255.2 547.0L1254.6 543.8L1255.6 539.5L1255.4 535.5L1254.5 531.6L1254.7 526.7L1254.4 523.8L1254.3 521.4L1256.1 513.7L1255.0 515.4L1254.9 509.0L1254.0 507.2L1255.6 503.1L1255.7 500.2L1255.2 496.5L1254.9 491.8L1255.5 487.4L1255.8 484.2L1256.7 480.2L1256.5 477.0L1257.2 472.4L1257.5 470.1L1256.3 466.4L1257.1 462.0L1256.9 458.7L1258.1 454.4L1257.8 452.7L1258.0 450.4L1257.7 445.8L1256.4 440.7L1255.2 435.9L1256.6 431.5L1256.0 430.0L1256.8 426.9L1255.7 423.4L1256.0 420.0L1256.5 417.0L1256.1 413.8L1256.9 409.4L1257.2 405.5L1259.4 399.1L1259.2 398.4L1258.9 394.5L1259.7 391.0L1260.4 387.1L1259.5 382.2L1259.0 380.2L1256.5 376.5L1256.5 373.8L1256.2 371.5L1255.2 367.3L1255.1 364.5L1256.2 361.8L1257.1 358.3L1258.9 355.0L1259.6 349.6L1260.7 345.0L1260.3 342.5L1261.6 339.7L1261.5 336.1L1262.1 333.1L1263.0 328.3L1261.7 325.5L1261.8 321.6L1262.3 316.8L1261.9 316.3L1262.8 308.9L1262.4 305.8L1263.0 304.6L1262.2 301.0L1262.7 294.9L1260.9 291.9L1260.6 289.7L1259.8 286.1L1259.4 280.0L1258.4 277.5L1258.5 274.1L1258.1 270.7L1257.8 266.8L1257.4 264.3L1258.5 259.1L1259.1 256.7L1260.1 252.9L1260.8 249.8L1261.9 245.1L1263.2 240.4L1262.8 238.4L1263.4 234.7L1263.9 231.2L1264.8 227.7L1264.6 224.0L1263.0 217.9L1262.8 215.8L1262.6 212.7L1262.2 206.6L1262.7 206.7L1262.9 200.0L1261.2 195.7L1262.1 191.6L1262.8 187.6L1263.1 187.2L1262.3 186.7L1263.2 186.4L1264.6 189.8L1265.2 192.4L1265.3 197.1L1268.3 200.6L1267.2 203.3L1266.4 207.7L1266.4 213.0L1266.6 213.9L1266.9 218.9L1267.9 218.3L1265.3 225.8L1265.3 228.9L1264.7 234.9L1265.3 238.5L1265.0 240.6L1264.8 244.1L1264.9 249.4L1265.3 251.1L1265.1 255.4L1265.2 259.4L1265.8 263.2L1264.7 267.3L1266.2 268.6L1265.6 274.4L1265.7 278.2L1264.9 281.6L1265.0 287.3L1264.7 288.7L1265.7 294.5L1265.5 296.8L1265.7 297.9L1266.0 303.2L1265.9 308.6L1267.4 311.8L1266.5 316.0L1265.5 320.4L1266.9 324.4L1267.2 325.8L1266.5 328.8L1267.8 333.7L1267.2 336.2L1267.3 341.4L1267.8 342.4L1267.2 344.6L1267.0 348.3L1266.7 353.3L1267.3 355.6L1267.8 360.2L1267.8 363.9L1267.9 367.0L1266.7 370.9L1267.5 375.0L1267.5 378.2L1267.8 381.7L1268.7 386.1L1268.1 389.2L1269.0 392.2L1269.4 397.1L1269.1 401.2L1270.0 403.6L1270.0 406.5L1269.7 411.1L1270.4 416.8L1269.0 419.4L1270.4 423.5L1269.4 425.8L1267.5 428.0L1268.2 431.7L1267.8 435.4L1266.1 438.4L1267.0 440.7L1265.7 443.9L1266.1 449.8L1266.0 453.3L1266.2 457.4L1265.5 459.6L1267.2 462.0L1266.9 466.4L1267.6 471.9L1268.9 472.9L1268.6 475.6L1269.1 481.5L1270.1 484.6L1269.7 486.7L1269.4 491.6L1269.8 496.1L1269.9 501.4L1269.7 503.5L1270.3 505.9L1269.5 510.2L1268.4 514.9L1269.3 517.5L1270.0 520.0L1269.2 524.5L1268.7 529.0L1268.7 531.6L1268.4 534.5L1268.3 539.6L1267.7 542.9L1269.8 547.4L1267.6 548.5L1267.6 552.9L1267.5 556.0L1266.9 559.7L1268.5 565.0L1268.1 566.3L1267.6 571.0L1268.2 574.5L1269.1 575.8L1268.6 580.1L1269.8 581.7L1269.9 587.7L1269.8 591.6L1270.5 595.0L1270.0 596.5L1269.9 602.2L1271.7 607.2L1270.7 609.0L1270.7 611.1L1271.5 617.0L1271.5 620.2L1272.0 621.9L1272.0 627.1L1270.8 630.3L1272.9 632.5L1272.9 638.3L1272.9 639.8L1272.8 645.0L1272.3 646.4L1273.9 652.4L1273.3 656.1L1273.4 661.7L1273.0 662.9L1273.5 666.7L1274.2 671.4L1274.4 675.1L1274.0 676.8L1273.6 681.1L1274.1 683.6L1273.5 688.5L1274.1 692.8L1273.4 697.7L1273.6 699.1L1275.3 704.6L1274.0 706.8L1274.6 711.1L1274.2 715.0L1274.8 716.5L1273.5 721.4L1275.8 726.7L1273.4 729.4L1275.3 732.5L1274.8 736.2L1275.2 742.1L1274.4 743.6L1275.3 747.2L1275.6 750.8L1273.9 754.4L1274.8 756.6L1274.9 759.0L1275.4 764.2L1275.2 769.0L1275.2 773.4L1274.2 776.7L1273.7 780.1L1274.3 783.3L1274.6 786.8L1273.5 791.4L1273.5 793.3L1274.1 796.7L1274.3 799.9L1273.6 804.4L1274.2 805.7L1274.2 809.4L1274.3 812.7L1274.7 819.0L1275.0 820.6L1274.4 823.2L1274.8 828.5L1275.7 831.9L1275.2 834.7L1276.0 838.3L1275.6 841.6L1276.0 845.0L1277.1 849.3L1277.5 850.8L1276.9 858.4L1277.7 861.5L1277.9 864.2L1277.6 866.1L1277.8 869.8L1277.8 875.6L1278.2 877.5L1278.7 882.6L1279.4 886.7L1278.4 889.8L1278.8 891.9L1279.7 898.2L1279.9 900.4L1278.4 901.9L1279.6 906.7L1279.4 910.3L1280.0 914.7L1280.1 917.0L1279.0 920.6L1280.5 923.5L1279.7 926.6L1280.6 931.9L1278.6 934.8L1279.2 937.9L1279.5 940.5L1278.5 944.1L1279.5 948.7L1279.1 951.8L1278.7 954.3L1279.5 958.9" stroke="#383838" stroke-width="5.2"/>
<path d="M1279.5 958.9L1280.3 963.6L1280.4 966.7L1280.8 971.5L1280.8 975.0L1281.0 978.5L1281.2 981.8L1281.7 987.1L1281.5 990.9L1282.0 995.1L1282.8 999.5L1282.7 1002.9L1283.1 1006.8L1283.5 1011.3L1283.8 1013.9L1284.3 1017.3L1284.9 1019.8L1285.0 1023.1L1286.6 1029.4L1287.4 1033.4L1288.1 1037.0L1289.4 1037.9L1291.4 1040.0L1294.3 1043.0L1296.5 1044.9L1300.2 1045.3L1302.4 1047.3L1304.8 1049.6L1307.7 1050.0L1312.8 1050.5L1315.1 1049.3L1317.5 1048.9L1320.1 1047.7L1323.6 1046.2L1326.8 1044.8L1330.7 1043.0L1334.6 1041.6L1338.3 1039.3L1342.5 1037.4L1345.5 1037.2L1348.6 1034.8L1351.7 1033.2L1354.6 1032.2L1358.5 1030.3L1361.9 1028.7L1365.6 1026.8L1368.7 1025.1L1372.9 1022.9L1376.6 1021.7L1379.6 1021.1L1383.5 1019.0L1386.0 1017.5L1389.5 1016.8L1392.7 1015.9L1396.9 1013.7L1401.3 1011.3L1404.8 1010.7L1408.8 1009.9L1412.2 1008.4L1415.5 1007.9L1418.6 1006.7L1421.8 1006.2L1425.2 1005.5L1429.2 1002.7L1432.9 1001.6L1436.2 1000.8L1439.7 1000.0L1442.9 998.4L1446.3 997.3L1449.8 996.3L1453.3 994.5L1456.7 994.5L1461.1 993.2L1464.2 992.5L1467.6 991.9L1471.3 991.0L1474.9 991.7L1478.4 991.1L1482.3 989.9L1485.8 991.2L1489.0 989.8L1492.6 991.2L1496.0 991.6L1500.2 991.2L1503.4 991.6L1507.5 991.6L1510.9 992.3L1514.5 993.2L1518.1 994.9L1522.3 994.6L1524.8 996.5L1528.5 996.7L1532.4 998.4L1535.5 999.9L1539.3 1001.2L1542.7 1002.3L1546.6 1003.4L1549.9 1005.3L1553.5 1006.2L1556.4 1007.6L1559.5 1010.4L1563.1 1011.3L1566.2 1012.1L1568.4 1014.0L1571.8 1016.3L1575.0 1017.7" stroke="#383838" stroke-width="6.7"/>
<path d="M1575.0 1017.7L1577.9 1019.2L1580.6 1020.5L1583.1 1021.9L1585.5 1023.5L1588.9 1025.4L1591.9 1025.8L1595.4 1028.3L1599.7 1031.4L1602.9 1032.7L1604.7 1033.4L1607.9 1034.5L1610.8 1036.2L1613.8 1037.6L1617.2 1040.1L1620.4 1040.6L1623.1 1042.5L1626.6 1044.8L1630.1 1046.2L1633.5 1048.1L1637.2 1049.5L1640.5 1050.8L1643.7 1052.4L1647.1 1054.1L1649.9 1055.7L1653.2 1057.8L1656.7 1059.8L1659.8 1059.6L1663.4 1062.4L1666.4 1064.1L1670.0 1064.8L1673.2 1066.7L1676.7 1068.8L1680.1 1070.2L1683.2 1070.8L1686.9 1072.2L1690.5 1074.0L1693.8 1075.6L1696.6 1076.4L1699.6 1078.2L1703.6 1079.9L1706.9 1080.9L1710.0 1083.0L1713.4 1085.1L1716.3 1085.4L1719.9 1087.0L1723.6 1088.6L1727.2 1090.2L1729.9 1090.9L1733.0 1092.1L1736.6 1094.5L1740.0 1095.1L1743.1 1096.7L1747.1 1098.0L1750.3 1099.3L1753.2 1100.4L1756.8 1101.9L1760.1 1103.0L1763.6 1104.1L1767.2 1105.5L1770.2 1107.1L1773.0 1107.6L1776.9 1109.8L1779.9 1110.2L1783.4 1111.6L1786.7 1113.6L1790.0 1113.8L1793.1 1115.3L1796.4 1116.7L1799.6 1117.8L1803.4 1119.5L1806.9 1120.0L1809.9 1121.3L1813.2 1122.5L1816.2 1123.5L1819.3 1124.5L1823.8 1126.1L1826.6 1127.9L1830.1 1128.2L1833.2 1129.3L1836.8 1130.5L1840.1 1131.8L1843.4 1132.6L1847.3 1134.1L1850.0 1136.1L1853.6 1136.4L1856.9 1138.3L1860.2 1138.8L1863.6 1139.4L1867.0 1140.9L1870.2 1141.6L1873.8 1143.9L1877.4 1145.0L1880.6 1146.5L1883.8 1147.5L1887.0 1148.0L1890.4 1150.6L1894.0 1149.5L1897.3 1151.6L1899.8 1152.6L1903.7 1153.6L1907.5 1155.1L1911.5 1156.1L1914.3 1157.5L1918.3 1158.9L1922.3 1161.2L1925.5 1160.0L1928.8 1162.5L1932.0 1163.0L1934.7 1163.6L1937.5 1164.4L1939.9 1166.3L1946.2 1168.9L1949.9 1169.6L1952.7 1170.4L1955.3 1171.4" stroke="#383838" stroke-width="7.8"/>
<path d="M365.0 1134.0L366.7 1134.2L369.6 1133.9L371.7 1134.1L375.1 1134.6L378.0 1133.7L382.0 1134.5L385.9 1134.8L389.3 1134.3L394.0 1134.4L397.3 1134.1L401.7 1134.7L405.8 1134.7L410.2 1135.0L414.6 1134.9L418.0 1135.2L422.1 1134.9L426.0 1135.0L429.9 1135.2L434.5 1135.1L437.2 1134.6L439.9 1135.5L444.5 1135.4L448.8 1134.9L452.8 1135.0L456.9 1135.2L460.2 1135.4L463.6 1135.2L467.0 1135.4L470.3 1135.8L473.3 1135.2L476.7 1135.7L480.3 1135.4L483.5 1135.7L487.1 1135.6L490.5 1135.2L493.8 1135.3L497.8 1136.1L501.5 1135.9L505.0 1135.7L508.5 1135.7L512.6 1135.2L515.6 1136.2L519.5 1135.7L523.2 1134.7L527.2 1135.9L530.1 1135.4L533.6 1134.6L537.0 1135.0L540.9 1134.9L544.4 1135.0L547.8 1134.6L552.0 1133.9L554.9 1133.4L559.0 1133.8L562.9 1132.9L566.0 1133.3L569.4 1131.8L572.9 1133.4L576.2 1131.8L578.9 1131.9L582.6 1131.8L586.5 1131.6L590.6 1131.1L594.3 1129.5L598.2 1129.6L601.7 1128.5L604.5 1127.3L608.3 1126.6L612.1 1125.9L615.8 1125.2L619.1 1124.3L622.9 1123.7L626.2 1122.2L629.5 1122.0L633.6 1120.2L636.5 1118.6L640.0 1118.1L643.8 1116.9L646.3 1114.6L649.9 1114.5L652.3 1113.2L655.4 1113.3L659.1 1110.7L661.9 1108.1L665.0 1106.8L668.3 1105.0L671.0 1104.8L674.8 1102.1L677.1 1101.3L680.8 1098.7L683.6 1097.0L686.6 1095.2L690.3 1094.0L693.6 1091.8L696.2 1089.5L699.3 1087.3L702.1 1086.1L706.0 1084.2L709.1 1082.1L711.7 1080.3L714.9 1078.2L718.1 1076.6L722.1 1075.9L725.6 1075.2L729.3 1073.8L733.2 1072.3L735.9 1072.1L739.8 1071.6L743.7 1070.7L747.6 1068.8L751.4 1068.8L754.8 1068.5L758.8 1068.7L762.2 1067.4L764.9 1067.0L769.3 1068.2L772.5 1068.3L776.1 1069.2L779.8 1069.7L782.6 1071.7L785.9 1072.1L788.8 1073.6L792.0 1075.0L795.2 1076.2L798.5 1079.1L802.1 1080.0L805.0 1081.5L808.2 1082.8L811.4 1084.8L814.4 1086.1L817.6 1087.6L821.3 1088.7L824.2 1090.9L827.3 1092.5L831.4 1093.9L834.8 1095.0L838.5 1096.9L842.1 1097.2L845.4 1098.2L848.8 1099.9L852.6 1099.9L856.6 1100.1L860.0 1100.9L862.8 1099.8L866.3 1100.5L869.9 1099.0L872.8 1098.5L875.5 1097.3L878.1 1095.3L880.4 1093.8L883.3 1092.9L886.7 1088.9L887.5 1086.6L889.8 1085.0L892.4 1081.0L894.7 1078.6L896.3 1074.9L898.9 1071.8L901.1 1068.3L903.0 1064.8L904.4 1062.5L906.4 1058.6L907.4 1054.8L909.5 1050.7L911.1 1047.4L912.3 1043.9L913.7 1040.9L915.0 1037.7L916.3 1033.6L918.4 1029.9L919.8 1027.4L921.8 1023.1L923.2 1021.7L925.0 1017.8L926.4 1014.9L928.2 1011.9L930.3 1009.3L932.5 1006.6L933.8 1004.5L935.9 1001.2L938.3 998.6L940.4 996.1L943.6 993.3L945.6 991.5L948.2 989.0L950.9 985.6L953.2 984.3L956.4 982.5L959.3 979.6L962.2 977.4L965.2 975.5L968.0 972.6L970.8 971.2L974.2 968.8L977.0 966.4L979.6 963.9L982.3 961.2L985.3 959.2L988.2 956.5L991.3 954.9L993.9 951.7L997.2 949.5L1000.4 947.5L1003.5 944.7L1007.1 943.0L1010.0 942.0L1013.6 940.6L1016.7 937.1L1019.7 936.2L1022.6 934.2L1026.4 931.9L1029.8 930.8L1032.7 930.3L1036.4 929.0L1039.2 927.4L1042.6 927.5L1045.7 926.7L1049.2 926.0L1053.0 925.7L1056.4 925.3L1059.7 924.8L1063.1 924.8L1066.7 925.2L1070.6 924.0L1073.7 925.2L1077.5 926.0L1079.6 926.2L1084.0 927.2L1087.5 927.9L1091.3 929.0L1094.9 929.2L1098.9 931.3L1102.5 931.4L1106.3 932.7L1110.0 932.5L1114.2 931.6L1117.5 930.4L1121.2 929.4L1124.8 927.2" stroke="#000000" stroke-width="8.2"/>
<path d="M1124.8 927.2L1127.7 925.5L1129.2 924.3L1131.3 920.1L1133.4 917.6L1135.7 914.2L1137.4 910.3L1138.9 908.0L1140.3 905.5L1141.6 903.0L1143.5 899.4L1144.5 895.6L1146.3 893.7L1147.6 889.1L1149.0 885.7L1150.4 882.9L1152.4 880.0L1153.6 875.9L1155.4 873.3L1156.7 869.6L1158.6 867.4L1160.3 864.0L1161.7 860.9L1163.4 858.4L1164.7 853.8L1166.8 850.7L1168.2 847.4L1169.3 843.9L1170.3 840.2L1172.7 837.4L1173.7 834.0L1175.2 830.5L1176.4 826.4L1178.2 822.9L1179.0 819.8L1180.6 816.9L1182.0 813.1L1183.5 811.0L1185.0 807.2L1186.4 804.1L1188.1 801.3L1189.0 798.1L1190.9 794.1L1193.1 790.9L1194.6 788.1L1195.6 784.5L1197.8 780.8L1198.8 777.3L1201.2 773.5L1203.5 770.4L1204.7 767.0L1206.4 763.5L1208.4 760.7L1209.9 757.5L1211.4 754.3L1213.3 750.9L1215.0 747.3L1216.9 743.8L1219.1 741.2L1220.1 737.9L1222.1 735.9L1223.4 732.0L1224.9 730.3L1227.4 725.9L1229.7 722.7L1232.5 719.7L1235.0 718.4L1237.9 714.3L1240.1 712.5" stroke="#000000" stroke-width="9.3"/>
<path d="M1240.1 712.5L1243.0 710.6L1245.9 708.1L1248.9 706.7L1252.3 705.9L1254.7 704.8L1258.5 705.2L1262.6 705.7L1266.2 705.8L1270.1 708.8L1272.7 710.0L1275.1 712.5L1277.5 715.5L1280.3 717.9L1282.2 720.5L1284.9 725.5L1286.7 726.9L1288.2 731.1L1290.5 734.8L1291.8 737.8L1293.0 741.1L1294.7 744.7L1296.2 748.6L1297.6 753.1L1298.7 756.1L1299.4 758.7L1300.3 763.1L1300.9 767.0L1301.9 770.3L1302.6 773.3L1304.0 777.1L1304.4 781.1L1305.1 784.7L1305.6 788.7L1307.0 791.3L1307.3 795.4L1307.8 798.7L1308.6 802.0L1309.6 805.7L1310.3 808.1L1311.2 811.6L1311.9 816.1L1312.7 818.8L1313.5 822.7L1313.6 826.2L1315.0 830.1L1315.4 833.9L1315.7 837.7L1316.9 841.8L1317.5 844.5L1318.6 849.2L1319.4 852.6L1319.9 854.7L1321.6 860.0L1322.6 862.9L1324.5 866.4L1326.8 868.9L1327.8 871.6L1329.9 873.4L1332.9 876.9L1335.5 879.0L1338.7 880.9L1342.8 882.2L1345.8 883.4L1348.3 883.8L1352.4 883.7L1356.0 884.3L1360.0 882.9L1363.7 884.5L1367.6 884.9L1370.9 885.8L1374.8 885.1L1378.4 885.6L1381.6 885.3L1385.4 886.2L1388.3 886.1L1392.6 887.5L1395.9 888.8L1399.4 890.5L1402.7 891.0L1406.5 893.1L1410.1 895.0L1413.3 896.5L1416.9 897.1L1420.0 899.9" stroke="#000000" stroke-width="8.2"/>
<path d="M1420.0 899.9L1423.7 900.4L1426.3 901.8L1429.9 903.6L1433.9 905.3L1436.5 906.2L1439.2 908.1L1442.4 911.3L1445.2 911.6L1448.2 913.7L1450.0 916.2L1452.8 917.1L1455.7 920.1L1458.7 922.6L1462.7 924.6L1464.3 925.6L1467.3 928.8L1470.2 930.6L1473.2 931.9L1475.9 933.2L1478.8 935.9L1481.7 937.6L1484.5 939.8L1488.2 941.7L1491.1 943.6L1494.1 945.5L1497.2 947.9L1500.1 949.7L1502.6 951.9L1506.0 954.7L1508.6 956.5L1511.7 958.4L1514.0 960.4L1517.1 962.9L1520.4 964.8L1522.4 966.9L1526.1 968.2L1529.1 970.9L1531.7 972.6L1534.4 974.8L1538.3 977.1L1540.4 978.7L1543.1 980.8L1545.9 983.4L1549.0 985.3L1551.6 987.3L1554.8 989.2L1557.7 990.5L1560.9 992.6L1563.4 994.4L1566.4 996.5L1569.3 998.8L1571.9 1000.0L1575.1 1002.9" stroke="#000000" stroke-width="9.2"/>
<path d="M1575.1 1002.9L1578.1 1004.0L1580.9 1006.6L1583.7 1008.6L1586.5 1010.5L1589.7 1012.2L1591.9 1014.3L1595.2 1015.5L1597.9 1018.5L1600.9 1020.2L1603.5 1022.5L1607.2 1023.9L1609.4 1025.3L1612.7 1027.5L1615.4 1029.8L1618.8 1031.3L1621.1 1032.7L1624.7 1033.9L1627.7 1036.7L1630.7 1037.4L1633.3 1039.6L1636.8 1041.3L1640.0 1042.4L1642.9 1043.3L1646.6 1046.7L1649.9 1047.3L1653.1 1049.1L1655.7 1050.1L1658.9 1052.7L1662.3 1053.7L1666.2 1055.7L1669.5 1057.1L1672.2 1057.8L1675.8 1059.4L1680.1 1060.4L1683.0 1062.1L1686.7 1064.7L1689.7 1066.5L1693.3 1067.7L1696.7 1068.3L1699.9 1070.0L1703.5 1071.5L1707.3 1072.7L1709.9 1073.9L1713.1 1074.9L1716.4 1077.3L1720.0 1078.2L1723.4 1080.0L1726.8 1081.2L1729.9 1082.1L1733.1 1083.5L1736.5 1084.6L1740.0 1086.0L1743.3 1087.2L1747.0 1088.6L1749.7 1090.1L1753.1 1090.8L1756.7 1091.9L1759.2 1094.0L1763.6 1094.5L1766.4 1096.7L1769.5 1097.4L1773.0 1098.9L1776.2 1100.6L1780.0 1101.6L1783.3 1101.9L1786.6 1103.5L1790.0 1104.9L1793.3 1106.4L1796.9 1108.1L1799.7 1109.0L1803.7 1110.4L1806.5 1111.4L1809.9 1113.1L1813.3 1114.1L1817.2 1114.5L1819.7 1115.6L1822.9 1117.9L1826.7 1119.4L1829.5 1119.5L1833.7 1121.5L1836.9 1122.7L1840.0 1123.5L1843.3 1125.0L1846.6 1126.0L1850.4 1126.5L1853.2 1128.4L1856.7 1129.3L1860.6 1130.6L1863.4 1132.1L1867.6 1132.3L1870.2 1133.9L1873.6 1135.9L1877.3 1136.0L1880.6 1136.9L1883.7 1138.4L1887.8 1138.5L1890.6 1141.2L1893.9 1142.5L1897.0 1142.9L1900.0 1143.6L1904.0 1144.8L1907.2 1146.5L1910.6 1147.2L1914.2 1149.6L1917.9 1151.3L1921.3 1152.1L1924.8 1154.1L1927.9 1154.5L1931.1 1156.9L1934.7 1157.4L1937.5 1159.3L1940.6 1159.7L1942.9 1161.6L1948.1 1163.2L1951.3 1164.1L1955.1 1165.1L1958.3 1165.9L1961.6 1167.7L1964.9 1167.9L1968.0 1168.2L1972.0 1169.9L1976.6 1170.9L1980.6 1170.7L1984.0 1171.4L1987.2 1172.3L1989.8 1172.0" stroke="#000000" stroke-width="10.4"/>
</g>
<ellipse cx="371.5" cy="1132" rx="7.5" ry="10.5" fill="#0a0a0a"/>
</g>
<g filter="url(#soft2)">
<g font-family="'Liberation Sans', sans-serif" font-size="60" fill="#151515" stroke="#ffffff" stroke-width="0.9" letter-spacing="0">
<text x="241.1" y="1189.0" text-anchor="end">0</text>
<text x="241.1" y="1050.3" text-anchor="end">500</text>
<text x="241.1" y="911.5" text-anchor="end">1000</text>
<text x="241.1" y="772.8" text-anchor="end">1500</text>
<text x="241.1" y="634.0" text-anchor="end">2000</text>
<text x="241.1" y="495.3" text-anchor="end">2500</text>
<text x="241.1" y="356.5" text-anchor="end">3000</text>
<text x="241.1" y="217.8" text-anchor="end">3500</text>
<text x="241.1" y="79.0" text-anchor="end">4000</text>
<text x="300.5" y="1273.3" text-anchor="middle">0</text>
<text x="497.0" y="1273.3" text-anchor="middle">100</text>
<text x="694.3" y="1273.3" text-anchor="middle">200</text>
<text x="891.6" y="1273.3" text-anchor="middle">300</text>
<text x="1089.0" y="1273.3" text-anchor="middle">400</text>
<text x="1286.3" y="1273.3" text-anchor="middle">500</text>
<text x="1483.7" y="1273.3" text-anchor="middle">600</text>
<text x="1681.0" y="1273.3" text-anchor="middle">700</text>
<text x="1878.4" y="1273.3" text-anchor="middle">800</text>
<text x="2075.8" y="1273.3" text-anchor="middle">900</text>
<text x="2275.4" y="1273.3" text-anchor="middle">1000</text>
</g>
</g>
<g filter="url(#soft)">
<g font-family="'Liberation Sans', sans-serif" font-weight="bold" font-size="57" fill="#000">
<text x="1287.4" y="1370.5" text-anchor="middle" letter-spacing="0.3">Temperature °C</text>
<text transform="translate(73.8 615.0) rotate(-90)" text-anchor="middle" letter-spacing="-0.45">TCD (u. a.)</text>
</g>
<g font-family="'Liberation Serif', serif" font-weight="bold" font-size="76" fill="#000">
<text x="1178.0" y="777.0">a</text>
<text x="1526.0" y="1149.0">b</text>
<text x="1432.0" y="805.0">c</text>
<text x="1200.0" y="322.0">d</text>
</g>
</g>
</svg>
</body>
</html>
